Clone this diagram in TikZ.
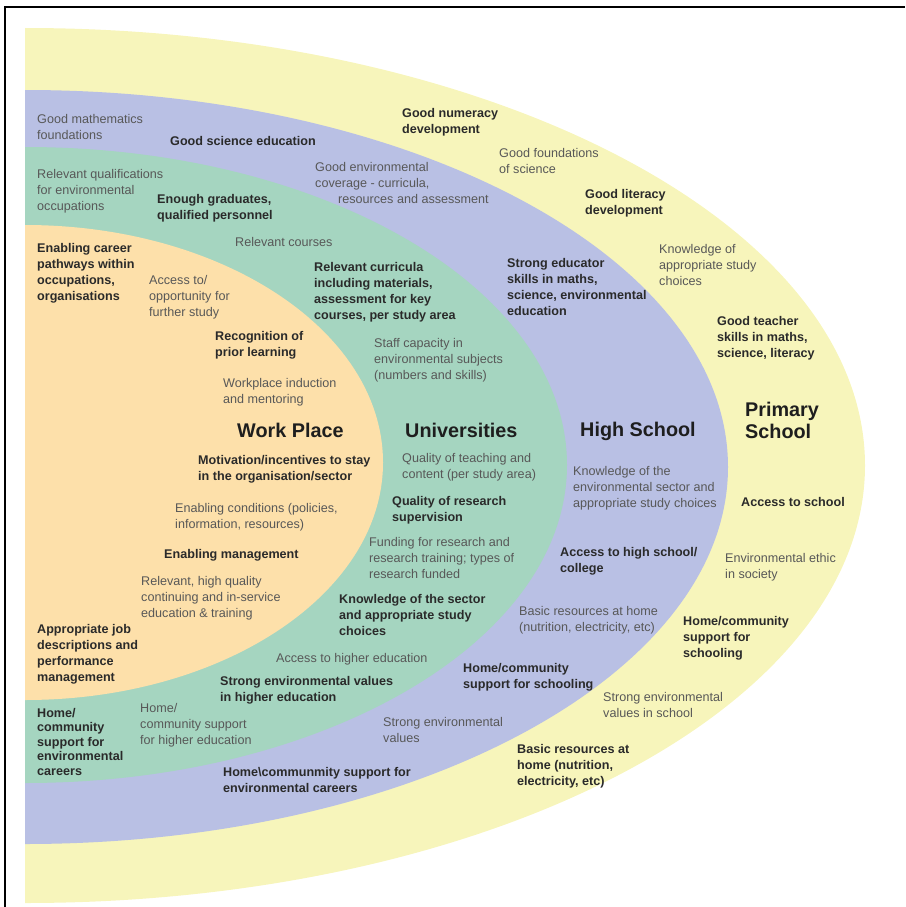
\documentclass[tikz,border=0pt]{standalone}
\usepackage{fontspec}
\setmainfont{Liberation Sans}

\definecolor{primaryfill}{RGB}{247,245,187}
\definecolor{highfill}{RGB}{185,192,228}
\definecolor{unifill}{RGB}{165,213,192}
\definecolor{workfill}{RGB}{253,224,170}
\definecolor{regtext}{RGB}{88,88,88}
\definecolor{boldtext}{RGB}{42,42,42}
\definecolor{titletext}{RGB}{30,30,30}

\tikzset{
  txt/.style={anchor=north west, inner sep=0pt, align=left, text=regtext,
    font=\fontsize{12.6}{16}\selectfont},
  btxt/.style={txt, text=boldtext, font=\fontsize{12.6}{16}\selectfont\bfseries},
  ttl/.style={txt, text=titletext, font=\fontsize{19.8}{21.5}\selectfont\bfseries}
}

\begin{document}
\begin{tikzpicture}[x=1pt, y=-1pt]
        \useasboundingbox (0,0) rectangle (905,907);

        \begin{scope}
            \clip (25,0) rectangle (905,907);
            \fill[primaryfill] (25,465.5) ellipse [x radius=840, y radius=437.5];
            \fill[highfill] (25,467) ellipse [x radius=703, y radius=377];
            \fill[unifill] (25,465) ellipse [x radius=542, y radius=318];
            \fill[workfill] (25,462.5) ellipse [x radius=358, y radius=237.5];
        \end{scope}

        \draw[line width=1.6pt] (5,907) -- (5,7) -- (905,7);

        % primary school
        \node[btxt] (numdev) at (402,108) {Good numeracy\\development};
        \node[txt] (scifound) at (499,148) {Good foundations\\of science};
        \node[btxt] (litdev) at (585,189) {Good literacy\\development};
        \node[txt] (studyknow) at (659,244) {Knowledge of\\appropriate study\\choices};
        \node[btxt] (teachskill) at (717,316) {Good teacher\\skills in maths,\\science, literacy};
        \node[ttl] (primary) at (745,402) {Primary\\School};
        \node[btxt] (schoolaccess) at (741,497) {Access to school};
        \node[txt] (envethic) at (725,553) {Environmental ethic\\in society};
        \node[btxt] (homeprim) at (683,616) {Home/community\\support for\\schooling};
        \node[txt] (valprim) at (603,692) {Strong environmental\\values in school};
        \node[btxt] (resprim) at (517,744) {Basic resources at\\home (nutrition,\\electricity, etc)};

        % high school
        \node[txt] (mathfound) at (37,114) {Good mathematics\\foundations};
        \node[btxt] (sciedu) at (170,136) {Good science education};
        \node[txt] (envcover) at (315,162) {Good environmental\\coverage - curricula,\\\hspace*{23pt}resources and assessment};
        \node[btxt] (educskill) at (507,258) {Strong educator\\skills in maths,\\science, environmental\\education};
        \node[ttl] (highschool) at (580,422) {High School};
        \node[txt] (sectorknow) at (573,466) {Knowledge of the\\environmental sector and\\appropriate study choices};
        \node[btxt] (hsaccess) at (560,547) {Access to high school/\\college};
        \node[txt] (reshigh) at (519,606) {Basic resources at home\\(nutrition, electricity, etc)};
        \node[btxt] (homehigh) at (463,663) {Home/community\\support for schooling};
        \node[txt] (valhigh) at (383,717) {Strong environmental\\values};
        \node[btxt] (careershigh) at (223,767) {Home\textbackslash communmity support for\\environmental careers};

        % universities
        \node[txt] (qualif) at (37,169) {Relevant qualifications\\for environmental\\occupations};
        \node[btxt] (grads) at (157,194) {Enough graduates,\\qualified personnel};
        \node[txt] (courses) at (235,237) {Relevant courses};
        \node[btxt] (curricula) at (314,262) {Relevant curricula\\including materials,\\assessment for key\\courses, per study area};
        \node[txt] (staffcap) at (374,338) {Staff capacity in\\environmental subjects\\(numbers and skills)};
        \node[ttl] (universities) at (405,423) {Universities};
        \node[txt] (teachqual) at (402,453) {Quality of teaching and\\content (per study area)};
        \node[btxt] (supervision) at (392,496) {Quality of research\\supervision};
        \node[txt] (funding) at (369,537) {Funding for research and\\research training; types of\\research funded};
        \node[btxt] (sectoruni) at (339,594) {Knowledge of the sector\\and appropriate study\\choices};
        \node[txt] (heaccess) at (276,653) {Access to higher education};
        \node[btxt] (valuni) at (220,676) {Strong environmental values\\in higher education};
        \node[txt] (homeuni) at (140,703) {Home/\\community support\\for higher education};
        \node[btxt, font=\fontsize{12.6}{14.5}\selectfont\bfseries] (careersuni) at (37,708) {Home/\\community\\support for\\environmental\\careers};

        % work place
        \node[btxt] (pathways) at (37,243) {Enabling career\\pathways within\\occupations,\\organisations};
        \node[txt] (studyaccess) at (149,275) {Access to/\\opportunity for\\further study};
        \node[btxt] (priorlearn) at (215,331) {Recognition of\\prior learning};
        \node[txt] (induction) at (223,378) {Workplace induction\\and mentoring};
        \node[ttl] (workplace) at (237,423) {Work Place};
        \node[btxt] (motivation) at (198,455) {Motivation/incentives to stay\\in the organisation/sector};
        \node[txt] (conditions) at (175,503) {Enabling conditions (policies,\\information, resources)};
        \node[btxt] (management) at (164,549) {Enabling management};
        \node[txt] (inservice) at (141,576) {Relevant, high quality\\continuing and in-service\\education \& training};
        \node[btxt] (jobdesc) at (37,624) {Appropriate job\\descriptions and\\performance\\management};
\end{tikzpicture}
\end{document}
